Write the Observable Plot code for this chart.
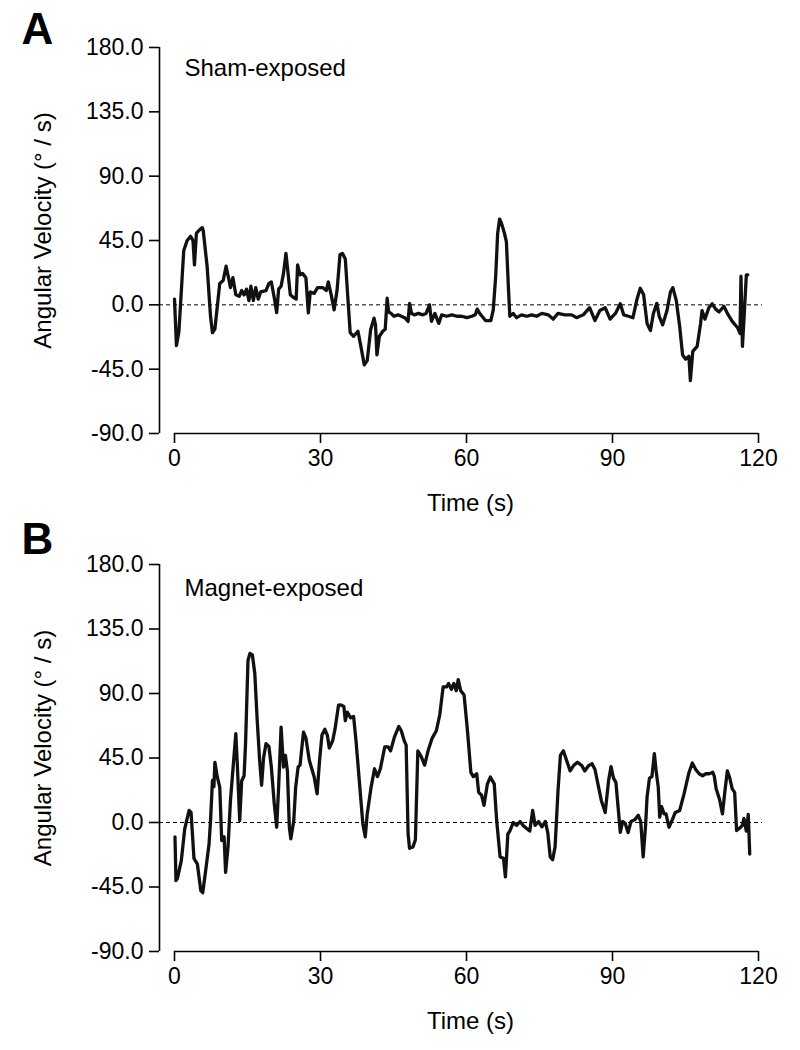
<!DOCTYPE html>
<html><head><meta charset="utf-8">
<script src="https://cdn.jsdelivr.net/npm/d3@7"></script>
<script src="https://cdn.jsdelivr.net/npm/@observablehq/plot@0.6"></script>
<style>
body{margin:0;background:#fff;}
#wrap{width:800px;height:1050px;}
#wrap svg{display:block;}
</style></head><body><div id="wrap"></div>
<script>
const FONT = '"Liberation Sans", Arial, Helvetica, sans-serif';
const yTicks = [-90, -45, 0, 45, 90, 135, 180];
const xTicks = [0, 30, 60, 90, 120];
const yLabel = "Angular Velocity (° / s)";
const xLabel = "Time (s)";
const titles = ["Sham-exposed", "Magnet-exposed"];
const letters = ["A", "B"];

const timeA = [0,0.4,0.9,1.9,2.6,3.3,3.8,4.1,4.5,5.0,5.7,5.9,6.7,7.4,7.8,8.3,8.8,9.3,10.0,10.6,11.1,11.5,12.0,12.6,13.3,13.8,14.3,14.8,15.3,15.7,16.2,16.7,17.2,17.7,18.8,19.4,19.9,20.5,21.0,21.4,21.9,22.4,22.9,23.4,23.8,24.5,25.0,25.3,25.8,26.3,27.0,27.5,27.9,28.7,29.4,30.5,31.2,31.6,32.2,32.8,33.4,34.0,34.5,35.1,35.6,36.1,36.8,37.7,38.4,39.0,39.6,40.3,41.0,41.3,41.6,42.1,42.8,43.3,43.7,44.0,44.5,45.1,45.9,46.6,47.3,48.0,48.3,48.7,49.3,50.1,51.0,51.7,52.4,52.8,53.5,54.3,54.9,55.9,57.0,58.0,59.0,60.1,61.1,61.8,62.2,62.7,63.2,63.9,65.0,65.5,66.0,66.4,66.8,67.2,67.8,68.2,68.6,68.9,69.6,70.3,71.3,72.4,73.4,74.4,75.5,76.8,77.8,78.8,80.2,81.6,82.6,84.0,85.3,86.4,87.4,88.5,89.5,90.6,91.6,92.3,93.3,94.2,95.0,95.7,96.4,97.1,97.8,98.4,99.1,99.6,100.3,101.2,101.9,102.4,103.1,103.8,104.4,105.0,105.7,106.0,106.5,107.4,108.1,108.4,109.0,109.8,110.5,111.2,111.9,112.9,113.6,114.6,115.7,116.2,116.4,116.7,117.1,117.5,117.8];
const velA = [4,-28.5,-19,38,45,48,45,28,50,52,54,52,27,-8,-19.5,-17,-1,15,17,27,19,12,19,7,6,10,7,11,3,13,3,12,4,9,10,15,16,5,-5.5,11,13,22,36,20,7,5,4,28,21,22,19,-5.6,9,8,12,12,10,16,7,-3.5,10,35,36,32,6,-19.5,-22,-18.5,-31,-42,-39,-17.4,-9.3,-14,-35,-22,-18.5,-17,4.6,-5,-6,-8,-7,-8,-9,-11.6,1,-6,-7,-6,-7,-6,0,-11.6,-6,-13,-7,-8,-7,-8,-8,-9,-8,-7,-3,-6,-8,-11,-11,-3.5,20,50,60,57,50,44,13,-8,-6,-9,-7,-8,-7,-8,-6,-7,-10,-6,-7,-7,-9,-7,-2,-11,-4,-2,-10,-6,0.7,-7,-8,-9,3.5,11.6,7,-13,-18,-6,1,-8,-14,-4,9,12,3,-15,-35,-38,-36,-53,-32.5,-29,-13,-4,-10,-2,0.7,-3,-5,-1,-6,-11.6,-16,-20,20,-29,-5,21,21];

const timeB = [0.1,0.3,0.6,1.4,2.1,3.0,3.4,4.0,4.7,5.4,5.8,6.4,7.1,7.4,7.8,8.1,8.3,8.8,9.3,9.7,10.2,10.5,11.0,11.5,12.1,12.6,12.9,13.4,13.8,14.3,14.6,15.1,15.5,16.0,16.5,17.0,17.5,17.9,18.3,18.8,19.4,19.9,20.5,21.0,21.4,21.9,22.4,22.8,23.2,23.6,23.9,24.5,24.9,25.4,25.8,26.5,27.0,27.7,28.7,29.3,29.8,30.3,30.9,31.4,31.8,32.5,33.0,33.7,34.2,34.8,35.1,35.5,36.2,36.8,37.3,38.0,38.7,39.2,39.6,40.4,41.1,41.7,42.3,43.2,43.9,44.4,45.2,46.1,46.6,47.2,47.6,48.0,48.3,49.0,49.5,50.0,50.7,51.4,52.1,52.9,53.8,54.5,55.2,55.9,56.3,56.9,57.4,57.9,58.3,58.8,59.5,60.2,60.9,61.4,62.1,62.5,63.1,63.6,64.3,64.9,65.7,66.2,66.9,67.6,68.0,68.5,68.9,69.6,70.3,71.0,71.6,72.3,73.0,73.6,74.1,74.8,75.5,76.2,76.7,77.2,77.7,78.2,78.8,79.3,79.9,80.6,81.3,82.0,82.8,83.7,84.3,85.1,85.8,86.4,87.0,87.7,88.5,89.2,89.7,90.2,90.7,91.3,91.6,92.1,92.6,93.2,93.8,94.6,95.3,95.8,96.3,96.8,97.1,97.6,98.1,98.6,99.0,99.4,99.7,100.1,100.6,101.0,101.6,102.3,102.9,103.8,104.7,105.7,106.4,107.1,107.8,108.5,109.2,109.9,110.6,110.9,111.3,112.0,112.6,113.1,113.6,114.1,114.6,115.1,115.5,116.1,116.7,117.0,117.5,117.9,118.2];
const velB = [-10,-40.6,-39,-26.6,-4.4,8.4,7,-25,-29,-47.5,-49,-33.6,-15,1,29.4,25,42,31.6,24.7,-12.6,-10,-34.8,-17,15.4,41,62,41,1.4,29,32.6,55,113,118,117,104,71,43,26,45,55,53,38.7,13,-3.3,25,66.6,38.7,46.8,36,-3.3,-11.4,1,24.7,38.7,40,63,59,43.4,31.7,20,43,61,65,61,52,57,65.5,81.8,82,81,71,77,73,74,57,28,-1,-10,6,24.7,37.5,32,37.5,52.7,52.7,50,59.7,67,64,57,54,-8,-18,-17,-12,50,46,40,50,58.5,64,75,94.6,94.6,97,93,97,92,99.7,92,89,64,35,32,34,21,19,12,27,31.7,27,1.4,-24,-25,-38,-8,-6,0,-2,0.7,-2,-4,-6,8.4,-2,0.7,-3,0.7,-7,-24,-26,-17,22,47,50,43,36,39.7,42,39.7,36,39.7,41,37,27,15.4,7,29.4,39,31,28,5,-6.8,0.7,-0.6,-7,0.7,2,5,0.7,-24,-2,17.7,31,32,48,35,24.7,3.7,11,6,6,-3.3,2,7,8.4,20,34.7,41.5,37,34,32.6,34,34,35,32.6,23.5,16,6,22,36,31,23.5,21,-5.6,-4,-2,2.8,-6,5.6,-22];

function panel(time, vel, title, letter, height, marginTop, marginBottom, letterDy, titleDy) {
  const data = time.map((t, i) => ({t, v: vel[i]}));
  return Plot.plot({
    width: 800, height, marginTop, marginBottom, marginLeft: 174, marginRight: 42,
    style: {fontFamily: FONT, fontSize: "23px", color: "#000", background: "#fff", overflow: "visible"},
    x: {domain: [0, 120]},
    y: {domain: [-90, 180]},
    marks: [
      Plot.ruleY([0], {stroke: "#000", strokeWidth: 1, strokeDasharray: "4,3", insetLeft: -15, insetRight: -4}),
      Plot.ruleX([0], {y1: -90, y2: 180, dx: -15, stroke: "#000", strokeWidth: 1.6}),
      Plot.ruleY([-90], {stroke: "#000", strokeWidth: 1.6}),
      Plot.axisY({ticks: yTicks, tickSize: 10, tickPadding: 6, dx: -15, tickFormat: d => d.toFixed(1), label: null, fontSize: 23, strokeWidth: 1.6}),
      Plot.axisX({ticks: xTicks, tickSize: 10, tickPadding: 6, label: null, fontSize: 23, strokeWidth: 1.6}),
      Plot.line(data, {x: "t", y: "v", stroke: "#111", strokeWidth: 3.3, strokeLinejoin: "round"}),
      Plot.text([title], {text: d => d, frameAnchor: "top-left", textAnchor: "start", dx: 10, dy: titleDy, fontSize: 24}),
      Plot.text([letter], {text: d => d, frameAnchor: "top-left", textAnchor: "start", lineAnchor: "bottom", dx: -153, dy: letterDy, fontSize: 44, fontWeight: "bold"}),
      Plot.text([yLabel], {text: d => d, frameAnchor: "left", textAnchor: "middle", lineAnchor: "middle", rotate: -90, dx: -131, dy: -10, fontSize: 24}),
      Plot.text([xLabel], {text: d => d, frameAnchor: "bottom", textAnchor: "middle", dx: 4, dy: 77, fontSize: 24})
    ]
  });
}

const wrap = document.getElementById("wrap");
wrap.appendChild(panel(timeA, velA, titles[0], letters[0], 518, 47, 85, -4, 11));
wrap.appendChild(panel(timeB, velB, titles[1], letters[1], 532, 46, 99, -11, 14));
</script>
</body></html>
